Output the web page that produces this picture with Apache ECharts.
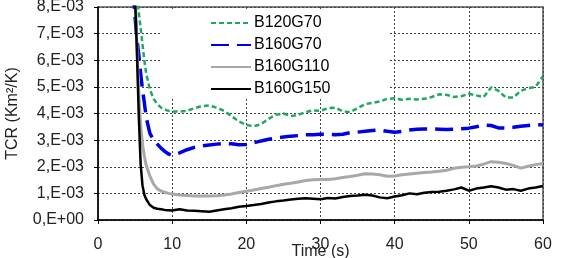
<!DOCTYPE html>
<html>
<head>
<meta charset="utf-8">
<script src="https://cdn.jsdelivr.net/npm/echarts@6/dist/echarts.min.js"></script>
<style>
  html, body { margin: 0; padding: 0; background: #fff; }
  #chart { width: 562px; height: 258px; }
</style>
</head>
<body>
<div id="chart"></div>
<script>
// TCR values in units of 1E-03 Km2/K
const time = [4.75, 5, 5.25, 5.5, 5.75, 6, 6.25, 6.5, 7, 7.5, 8, 8.5, 9, 9.5,
  10, 11, 12, 13, 14, 15, 16, 17, 18, 19,
  20, 21, 22, 23, 24, 25, 26, 27, 28, 29,
  30, 31, 32, 33, 34, 35, 36, 37, 38, 39,
  40, 41, 42, 43, 44, 45, 46, 47, 48, 49,
  50, 51, 52, 53, 54, 55, 56, 57, 58, 59, 60]

const b120g70 = [12, 9.8, 8.5, 7.8, 7.2, 6.6, 6.0, 5.5, 4.9, 4.55, 4.35, 4.22, 4.15, 4.1,
  4.08, 4.07, 4.1, 4.2, 4.28, 4.3, 4.22, 4.1, 3.9, 3.7,
  3.57, 3.52, 3.6, 3.8, 3.95, 4.0, 3.9, 3.95, 4.05, 4.12,
  4.1, 4.2, 4.22, 4.08, 4.05, 4.2, 4.35, 4.4, 4.45, 4.55,
  4.57, 4.52, 4.55, 4.53, 4.55, 4.62, 4.72, 4.7, 4.62, 4.65,
  4.74, 4.68, 4.62, 4.98, 4.85, 4.6, 4.6, 4.85, 4.95, 5.0, 5.4]

const b160g70 = [8.6, 7.6, 6.8, 6.2, 5.5, 4.9, 4.4, 3.85, 3.25, 3.0, 2.85, 2.7, 2.58, 2.48,
  2.42, 2.52, 2.64, 2.73, 2.78, 2.82, 2.85, 2.88, 2.86, 2.83,
  2.84, 2.9, 2.97, 3.03, 3.08, 3.12, 3.15, 3.17, 3.2, 3.2,
  3.22, 3.22, 3.2, 3.22, 3.28, 3.3, 3.33, 3.36, 3.38, 3.33,
  3.3, 3.33, 3.38, 3.41, 3.42, 3.42, 3.41, 3.4, 3.41, 3.43,
  3.45, 3.5, 3.57, 3.55, 3.46, 3.45, 3.48, 3.52, 3.55, 3.58, 3.57]

const b160g110 = [11, 8.8, 6.5, 4.8, 3.55, 2.85, 2.4, 2.05, 1.65, 1.35, 1.17, 1.09, 1.04, 1.0,
  0.98, 0.94, 0.92, 0.9, 0.9, 0.9, 0.91, 0.94, 0.98, 1.03,
  1.08, 1.13, 1.18, 1.23, 1.29, 1.34, 1.38, 1.43, 1.48, 1.51,
  1.52, 1.52, 1.55, 1.6, 1.63, 1.68, 1.74, 1.73, 1.7, 1.64,
  1.65, 1.7, 1.73, 1.76, 1.78, 1.8, 1.83, 1.87, 1.94, 1.98,
  2.0, 2.03, 2.1, 2.19, 2.17, 2.12, 2.05, 1.95, 2.02, 2.08, 2.12]

const b160g150 = [11, 8.3, 6.3, 3.9, 2.1, 1.3, 0.95, 0.78, 0.56, 0.46, 0.42, 0.4, 0.38, 0.37,
  0.36, 0.4, 0.36, 0.35, 0.33, 0.31, 0.36, 0.4, 0.44, 0.5,
  0.53, 0.56, 0.6, 0.66, 0.7, 0.73, 0.77, 0.8, 0.82, 0.8,
  0.78, 0.83, 0.81, 0.86, 0.9, 0.92, 0.95, 0.92, 0.85, 0.82,
  0.88, 0.93, 1.0, 0.97, 1.02, 1.05, 1.06, 1.1, 1.15, 1.22,
  1.1, 1.18, 1.22, 1.27, 1.22, 1.14, 1.16, 1.1, 1.18, 1.22, 1.28]

const seriesNames = ['B120G70', 'B160G70', 'B160G110', 'B160G150']

const font = 'Liberation Sans, Arial, sans-serif'

function pairs(values) {
  return time.map((t, i) => [t, values[i]])
}

const chart = echarts.init(document.getElementById('chart'), null, { renderer: 'canvas' })

chart.setOption({
  animation: false,
  textStyle: { fontFamily: font },
  grid: {
    left: 98,
    right: 19,
    top: 7,
    bottom: 38,
    outerBoundsMode: 'none',
    show: true,
    borderColor: '#555',
    borderWidth: 1.5
  },
  legend: {
    orient: 'vertical',
    left: 162,
    top: 9,
    padding: [6, 58, 1, 48],
    backgroundColor: '#fff',
    itemWidth: 40,
    itemHeight: 14,
    itemGap: 6,
    itemStyle: { opacity: 0 },
    textStyle: { fontSize: 16, color: '#000', fontFamily: font, padding: [0, 0, 0, -2] },
    data: seriesNames
  },
  xAxis: {
    type: 'value',
    min: 0,
    max: 60,
    interval: 10,
    name: 'Time (s)',
    nameLocation: 'middle',
    nameGap: 24,
    nameMoveOverlap: false,
    nameTextStyle: { fontSize: 16, color: '#222' },
    axisLine: { lineStyle: { color: '#000', width: 1.5 } },
    axisTick: { length: 4, lineStyle: { color: '#000' } },
    axisLabel: { fontSize: 16, color: '#222', margin: 17 },
    splitLine: { lineStyle: { type: [2, 2], color: '#444', width: 1 } }
  },
  yAxis: {
    type: 'value',
    min: 0,
    max: 8,
    interval: 1,
    name: 'TCR (Km²/K)',
    nameLocation: 'middle',
    nameGap: 77,
    nameMoveOverlap: false,
    nameTextStyle: { fontSize: 16, color: '#222' },
    axisLine: { show: true, lineStyle: { color: '#000', width: 1.5 } },
    axisTick: { show: true, length: 4, lineStyle: { color: '#000' } },
    axisLabel: {
      fontSize: 16,
      color: '#222',
      margin: 14,
      formatter: v => v === 0 ? '0,E+00' : v + ',E-03'
    },
    splitLine: { lineStyle: { type: [2, 2], color: '#444', width: 1 } }
  },
  series: [
    {
      name: seriesNames[0],
      type: 'line',
      symbol: 'none',
      data: pairs(b120g70),
      lineStyle: { color: '#1fa862', width: 2.5, type: [5, 3] },
      itemStyle: { color: '#1fa862' }
    },
    {
      name: seriesNames[1],
      type: 'line',
      symbol: 'none',
      data: pairs(b160g70),
      lineStyle: { color: '#0000e6', width: 3.5, type: [18, 8] },
      itemStyle: { color: '#0000e6' }
    },
    {
      name: seriesNames[2],
      type: 'line',
      symbol: 'none',
      data: pairs(b160g110),
      lineStyle: { color: '#a8a8a8', width: 3 },
      itemStyle: { color: '#a8a8a8' }
    },
    {
      name: seriesNames[3],
      type: 'line',
      symbol: 'none',
      data: pairs(b160g150),
      lineStyle: { color: '#000', width: 2.5 },
      itemStyle: { color: '#000' }
    }
  ]
})
</script>
</body>
</html>
